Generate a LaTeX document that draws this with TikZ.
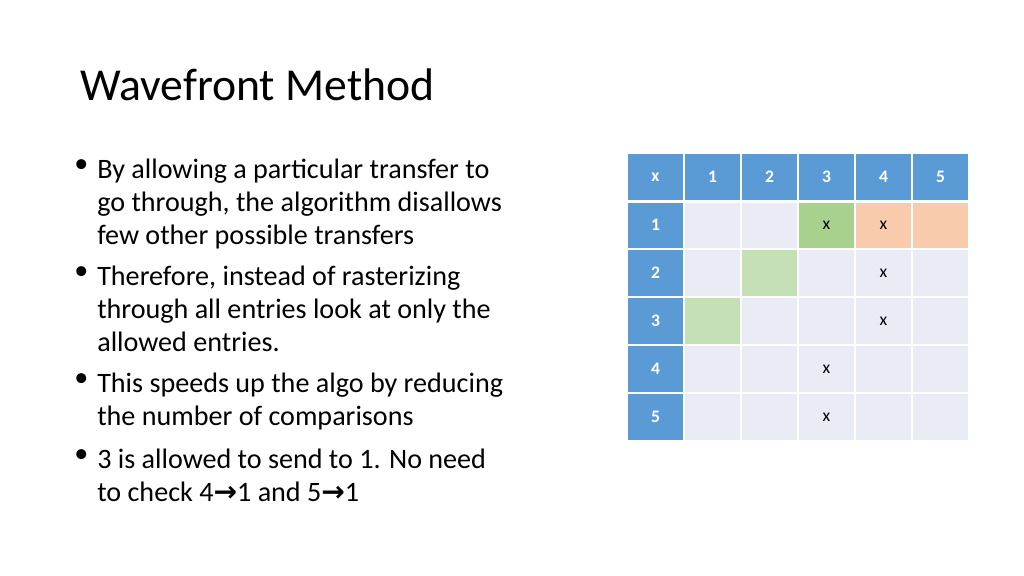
\documentclass[tikz,border=0pt]{standalone}
\usepackage{fontspec}
\usetikzlibrary{positioning}
\setmainfont{Carlito}
\newfontfamily\arrowfont{DejaVu Sans}
\newcommand{\toarr}{{\arrowfont\bfseries →}}
\definecolor{hdrblue}{HTML}{5B9BD5}
\definecolor{cellgray}{HTML}{E9EBF5}
\definecolor{okgreen}{HTML}{A9D18E}
\definecolor{ltgreen}{HTML}{C5E0B4}
\definecolor{peach}{HTML}{F8CBAD}
\tikzset{
	hdr/.style={fill=hdrblue, draw=white, line width=1pt, minimum width=57*0.025cm, minimum height=48*0.025cm, inner sep=0pt, text=white, font=\bfseries\fontsize{12.5}{15}\selectfont},
	cell/.style={fill=cellgray, draw=white, line width=1pt, minimum width=57*0.025cm, minimum height=48*0.025cm, inner sep=0pt, font=\fontsize{12.5}{15}\selectfont},
	bullet/.style={anchor=north west, align=left, inner sep=0pt, font=\fontsize{20}{23.4}\selectfont},
	dot/.style={anchor=north west, inner sep=0pt, font=\fontsize{20}{23.4}\selectfont}
}
\begin{document}
\begin{tikzpicture}[x=0.025cm, y=-0.025cm]
	\useasboundingbox (0, 0) rectangle (1024, 576);
	\node[anchor=west, inner sep=0pt, font=\fontsize{32.5}{38}\selectfont] (title) at (80, 85) {Wavefront Method};
	%
	\node[bullet] (b1) at (97, 159) {By allowing a particular transfer to\\go through, the algorithm disallows\\few other possible transfers};
	\node[bullet] (b2) at (97, 266) {Therefore, instead of rasterizing\\through all entries look at only the\\allowed entries.};
	\node[bullet] (b3) at (97, 373) {This speeds up the algo by reducing\\the number of comparisons};
	\node[bullet] (b4) at (97, 449) {3 is allowed to send to 1. No need\\to check 4\toarr1 and 5\toarr1};
	\foreach \b in {1,...,4} {
		\node[dot, left=6pt of b\b.north west, anchor=north east] (d\b) {\textbullet};
	}
	% table
	\foreach \c in {0,...,5} {
		\foreach \r in {0,...,5} {
			\node[cell] (c\r\c) at (655.5+57*\c, 177+48*\r) {};
		}
	}
	\node[hdr] (h00) at (c00) {x};
	\foreach \i in {1,...,5} {
		\node[hdr] (h0\i) at (c0\i) {\i};
		\node[hdr] (h\i0) at (c\i0) {\i};
	}
	\node[cell, fill=okgreen] (g13) at (c13) {x};
	\node[cell, fill=peach] (p14) at (c14) {x};
	\node[cell, fill=peach] (p15) at (c15) {};
	\node[cell, fill=ltgreen] (g22) at (c22) {};
	\node[cell, fill=ltgreen] (g31) at (c31) {};
	\node[font=\fontsize{12.5}{15}\selectfont] (x24) at (c24) {x};
	\node[font=\fontsize{12.5}{15}\selectfont] (x34) at (c34) {x};
	\node[font=\fontsize{12.5}{15}\selectfont] (x43) at (c43) {x};
	\node[font=\fontsize{12.5}{15}\selectfont] (x53) at (c53) {x};
	\draw[white, line width=2.5pt] (c00.south west) -- (c05.south east);
\end{tikzpicture}
\end{document}
